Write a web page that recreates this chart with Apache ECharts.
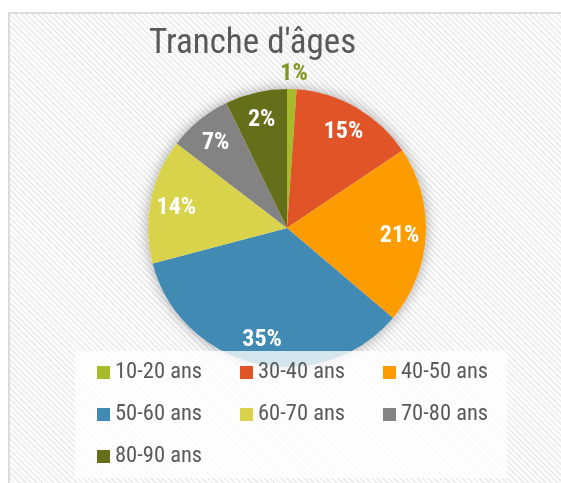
<!DOCTYPE html>
<html>
<head>
<meta charset="utf-8">
<script src="https://cdn.jsdelivr.net/npm/echarts@6/dist/echarts.min.js"></script>
<style>
  html, body { margin: 0; padding: 0; background: #fff; }
  #frame {
    position: absolute; left: 8px; top: 12px; width: 560px; height: 480px;
    border-left: 2px solid #dcdcdc; border-top: 2px solid #dcdcdc;
    background: repeating-linear-gradient(45deg, #ffffff 0px, #ffffff 2px, #eeeeee 2px, #eeeeee 4px);
  }
  #main { position: absolute; left: 0; top: 0; width: 561px; height: 483px; }
</style>
</head>
<body>
<div id="frame"></div>
<div id="main"></div>
<script>
  // tranches d'âge
  var categories = ['10-20 ans', '30-40 ans', '40-50 ans', '50-60 ans', '60-70 ans', '70-80 ans', '80-90 ans'];
  var values = [1.1, 14.5, 20.6, 34.7, 14.5, 7.4, 7.2];
  // étiquettes affichées
  var labels = ['1%', '15%', '21%', '35%', '14%', '7%', '2%'];
  var colors = ['#a6ba2a', '#e05427', '#fd9c00', '#418ab3', '#d8d34a', '#838383', '#646f1a'];

  var font = "'Roboto Condensed', 'Liberation Sans Narrow', 'Arial Narrow', sans-serif";
  var center = [287, 228];
  var R = 139;

  var chart = echarts.init(document.getElementById('main'));

  var option = {
    backgroundColor: 'transparent',
    animation: false,
    title: {
      text: "Tranche d'âges",
      left: 149,
      top: 27,
      padding: 0,
      textStyle: { fontFamily: font, fontSize: 35, fontWeight: 'normal', color: '#595959' }
    },
    legend: {
      data: categories,
      left: 75,
      top: 351,
      width: 420,
      orient: 'horizontal',
      itemWidth: 13,
      itemHeight: 13,
      itemGap: 19,
      icon: 'rect',
      padding: [10, 0, 10, 22],
      backgroundColor: 'rgba(255,255,255,0.78)',
      textStyle: { fontFamily: font, fontSize: 22.5, color: '#595959', width: 106, lineHeight: 22 }
    },
    series: [
      {
        name: 'Tranche',
        type: 'pie',
        z: 2,
        center: center,
        radius: R,
        silent: true,
        label: { show: false },
        labelLine: { show: false },
        data: categories.map(function (c, i) {
          return { name: c, value: values[i], itemStyle: { color: colors[i] } };
        })
      },
      {
        name: 'ombre',
        type: 'pie',
        z: 1,
        center: center,
        radius: R,
        silent: true,
        label: { show: false },
        labelLine: { show: false },
        itemStyle: { color: '#ffffff', shadowBlur: 14, shadowColor: 'rgba(0,0,0,0.35)' },
        data: [{ name: 'ombre', value: 1 }]
      },
      {
        name: 'etiquettes',
        type: 'pie',
        z: 3,
        center: center,
        radius: [R * 0.58, R],
        silent: true,
        avoidLabelOverlap: false,
        itemStyle: { color: 'rgba(0,0,0,0)' },
        label: {
          show: true,
          position: 'inside',
          fontFamily: font,
          fontSize: 24,
          fontWeight: 'bold',
          color: '#ffffff',
          formatter: function (p) { return labels[p.dataIndex]; }
        },
        labelLine: { show: false, length: 16, length2: 0 },
        labelLayout: function (p) {
          if (p.dataIndex === 0) return { dx: -17, dy: 1 };
          return { dy: 2 };
        },
        data: categories.map(function (c, i) {
          var d = { name: c, value: values[i] };
          if (i === 0) {
            d.label = { position: 'outside', color: '#80971f' };
          }
          return d;
        })
      }
    ]
  };

  chart.setOption(option);
</script>
</body>
</html>
